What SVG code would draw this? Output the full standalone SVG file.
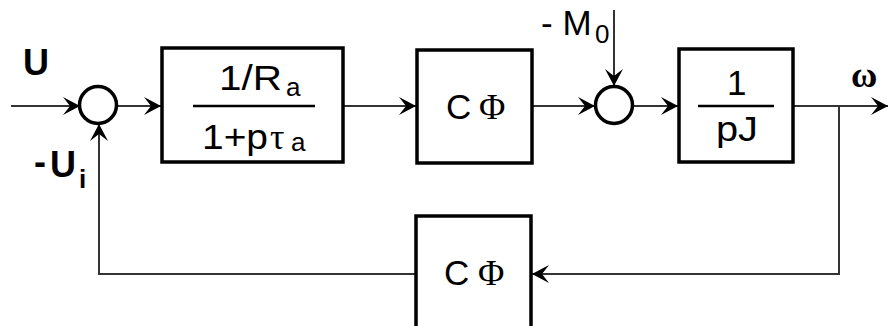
<svg xmlns="http://www.w3.org/2000/svg" width="889" height="326" viewBox="0 0 889 326">
  <style>
    .box { fill: none; stroke: #000; stroke-width: 3.5; }
    .sum { fill: none; stroke: #000; stroke-width: 3.5; }
    .line { fill: none; stroke: #333; stroke-width: 2; }
    .frac { stroke: #000; stroke-width: 2.5; }
    .t { font-family: "Liberation Sans", Arial, sans-serif; font-size: 35px; fill: #000; }
    .s { font-family: "Liberation Serif", "Times New Roman", serif; font-size: 36px; fill: #000; }
    .sub { font-family: "Liberation Sans", Arial, sans-serif; font-size: 26px; fill: #000; }
    .b { font-family: "Liberation Sans", Arial, sans-serif; font-size: 36px; font-weight: bold; fill: #000; }
  </style>
  <defs>
    <marker id="arr" markerUnits="userSpaceOnUse" markerWidth="20" markerHeight="20" viewBox="-18 -10 20 20" refX="0" refY="0" orient="auto">
      <path d="M0,0 L-17,-9 L-10,0 L-17,9 Z" fill="#000"/>
    </marker>
  </defs>
  <rect width="889" height="326" fill="#fff"/>

  <g id="connectors">
    <line class="line" x1="11" y1="106" x2="80" y2="106" marker-end="url(#arr)"/>
    <line class="line" x1="117" y1="106" x2="161" y2="106" marker-end="url(#arr)"/>
    <line class="line" x1="343" y1="106" x2="416" y2="106" marker-end="url(#arr)"/>
    <line class="line" x1="532" y1="106" x2="595" y2="106" marker-end="url(#arr)"/>
    <line class="line" x1="614" y1="10" x2="614" y2="86" marker-end="url(#arr)"/>
    <line class="line" x1="633" y1="106" x2="678" y2="106" marker-end="url(#arr)"/>
    <line class="line" x1="793" y1="106" x2="888" y2="106" marker-end="url(#arr)"/>
    <polyline class="line" points="839,106 839,274 532,274" marker-end="url(#arr)"/>
    <polyline class="line" points="416,274 99,274 99,124" marker-end="url(#arr)"/>
  </g>

  <g id="label-U"><text class="b" x="23" y="75">U</text></g>
  <g id="label-Ui"><text class="b" x="34" y="174" font-size="30">-</text><text class="b" x="50" y="177">U</text><text class="sub" x="79" y="188" font-weight="bold">i</text></g>
  <g id="label-M0"><text class="t" x="541" y="35">- M</text><text class="sub" x="595" y="43" font-size="25">0</text></g>
  <g id="label-omega"><text class="s" x="851" y="87" font-weight="bold" font-size="38">ω</text></g>

  <g id="sum1"><circle class="sum" cx="98" cy="105" r="18.5"/></g>
  <g id="sum2"><circle class="sum" cx="614" cy="105" r="18.5"/></g>

  <g id="block1">
    <rect class="box" x="162" y="48" width="181" height="114"/>
    <line class="frac" x1="193" y1="106" x2="315" y2="106"/>
    <text class="t" x="219" y="90" textLength="63" lengthAdjust="spacingAndGlyphs">1/R</text><text class="sub" x="286" y="96">a</text>
    <text class="t" x="202" y="149" textLength="66" lengthAdjust="spacingAndGlyphs">1+p</text><text class="s" x="270" y="149">τ</text><text class="sub" x="291" y="151">a</text>
  </g>

  <g id="block2">
    <rect class="box" x="417" y="50" width="115" height="113"/>
    <text class="t" x="446" y="119">C</text><text class="s" x="479" y="119">Φ</text>
  </g>

  <g id="block3">
    <rect class="box" x="679" y="49" width="114" height="113"/>
    <line class="frac" x1="698" y1="106" x2="774" y2="106"/>
    <text class="t" x="727" y="95">1</text>
    <text class="t" x="716" y="141" textLength="42" lengthAdjust="spacingAndGlyphs">pJ</text>
  </g>

  <g id="block4">
    <rect class="box" x="416" y="216" width="115" height="120"/>
    <text class="t" x="444" y="285">C</text><text class="s" x="478" y="285">Φ</text>
  </g>
</svg>
